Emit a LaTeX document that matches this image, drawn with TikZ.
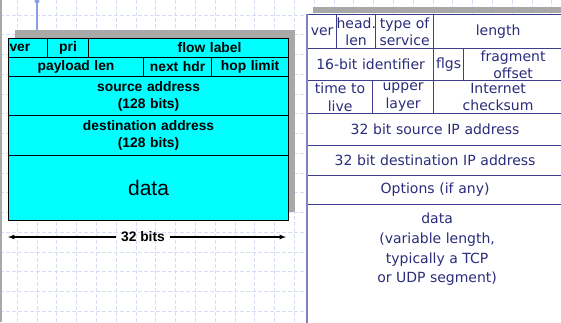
\documentclass[tikz,border=0pt]{standalone}
\usepackage{fontspec}
\setmainfont{Liberation Sans}
\newfontfamily\slidefont{DejaVu Sans}
\usepackage{xcolor}
\usetikzlibrary{positioning, arrows}

\definecolor{gridblue}{RGB}{214,222,246}
\definecolor{pinblue}{RGB}{140,158,232}
\definecolor{shadowgray}{RGB}{168,168,168}
\definecolor{hdrcyan}{RGB}{0,255,255}
\definecolor{navyline}{RGB}{62,62,140}
\definecolor{navytext}{RGB}{44,44,124}
\definecolor{edgeblue}{RGB}{128,128,196}

\begin{document}
\begin{tikzpicture}[x=1pt, y=-1pt,
    wh/.style 2 args={minimum width=#1pt, text width=#1pt, minimum height=#2pt},
    vsixcell/.style={draw=black, line width=1.1pt, fill=hdrcyan, inner sep=0pt, anchor=north west,
        align=center, font=\bfseries\fontsize{13.8}{17}\selectfont},
    vfourcell/.style={draw=navyline, line width=1.2pt, fill=white, inner sep=0pt, anchor=north west,
        align=center, text=navytext, font=\slidefont\fontsize{14}{17.5}\selectfont},
    vfourtext/.style={inner sep=0pt, align=center, text=navytext, font=\slidefont\fontsize{14}{19.6}\selectfont},
    gridline/.style={gridblue, line width=0.6pt, dash pattern=on 4pt off 2pt}]

    \useasboundingbox (0,0) rectangle (561,322);
    \clip (0,0) rectangle (561,322);

    % slide background
    \foreach \i in {0,...,28}
        \draw[gridline] (17+19.8*\i,0) -- (17+19.8*\i,322);
    \foreach \j in {0,...,16}
        \draw[gridline] (0,15+19.75*\j) -- (561,15+19.75*\j);
    \fill[shadowgray] (0,0) rectangle (1.5,322);
    \draw[pinblue, line width=1.6pt] (37,0) -- (37,30);
    \fill[pinblue] (37,1) circle (2.5pt);

    % IPv6 header
    \fill[shadowgray] (15,30) rectangle (295,212);
    \node[vsixcell, wh={39}{19}, text width=37pt, inner xsep=1pt, align=left] (ver) at (8,38) {ver};
    \node[vsixcell, wh={41}{19}] (pri) at (47,38) {pri};
    \node[vsixcell, wh={200}{19}] (flow) at (88,38) {\hspace*{42pt}flow label};
    \node[vsixcell, wh={135}{19}] (plen) at (8,57) {payload len};
    \node[vsixcell, wh={68}{19}] (nhdr) at (143,57) {next hdr};
    \node[vsixcell, wh={77}{19}] (hlim) at (211,57) {hop limit};
    \node[vsixcell, wh={280}{39}] (saddr) at (8,76) {source address\\(128 bits)};
    \node[vsixcell, wh={280}{40}] (daddr) at (8,115) {destination address\\(128 bits)};
    \node[vsixcell, wh={280}{65}, font=\fontsize{21}{24}\selectfont] (vsixdata) at (8,155) {data};

    \node[font=\bfseries\fontsize{13.8}{15}\selectfont, inner sep=0pt] (bits) at (143,237) {32 bits};
    \coordinate (bitsl) at (8,237);
    \coordinate (bitsr) at (286,237);
    \draw[-latex, line width=1.2pt] (bits.west) ++(-5,0) -- (bitsl);
    \draw[-latex, line width=1.2pt] (bits.east) ++(5,0) -- (bitsr);

    % IPv4 header
    \fill[shadowgray] (313,7) rectangle (562,13);
    \node[vfourcell, wh={29}{34}] (rver) at (307,14) {ver};
    \node[vfourcell, wh={39}{34}] (rhead) at (336,14) {head.\\len};
    \node[vfourcell, wh={58}{34}] (rtos) at (375,14) {type of\\service};
    \node[vfourcell, wh={129}{34}] (rlen) at (433,14) {length};
    \node[vfourcell, wh={126}{32}] (rid) at (307,48) {16-bit identifier};
    \node[vfourcell, wh={30}{32}] (rflgs) at (433,48) {flgs};
    \node[vfourcell, wh={99}{32}] (rfrag) at (463,48) {fragment\\offset};
    \node[vfourcell, wh={65}{33}] (rttl) at (307,80) {time to\\live};
    \node[vfourcell, wh={61}{33}] (rupper) at (372,80) {upper\\layer};
    \node[vfourcell, wh={129}{33}] (rcsum) at (433,80) {Internet\\checksum};
    \node[vfourcell, wh={255}{32}] (rsrc) at (307,113) {32 bit source IP address};
    \node[vfourcell, wh={255}{30}] (rdst) at (307,145) {32 bit destination IP address};
    \node[vfourcell, wh={255}{29}] (ropt) at (307,175) {Options (if any)};
    \node[vfourcell, wh={255}{125}] (rdata) at (307,204) {};
    \node[vfourtext, below=9pt of rdata.north, xshift=2pt] (rdatatext) {data\\(variable length,\\typically a TCP\\or UDP segment)};
    \draw[edgeblue, line width=2.3pt] (rver.north west) -- (rdata.south west);
\end{tikzpicture}
\end{document}
